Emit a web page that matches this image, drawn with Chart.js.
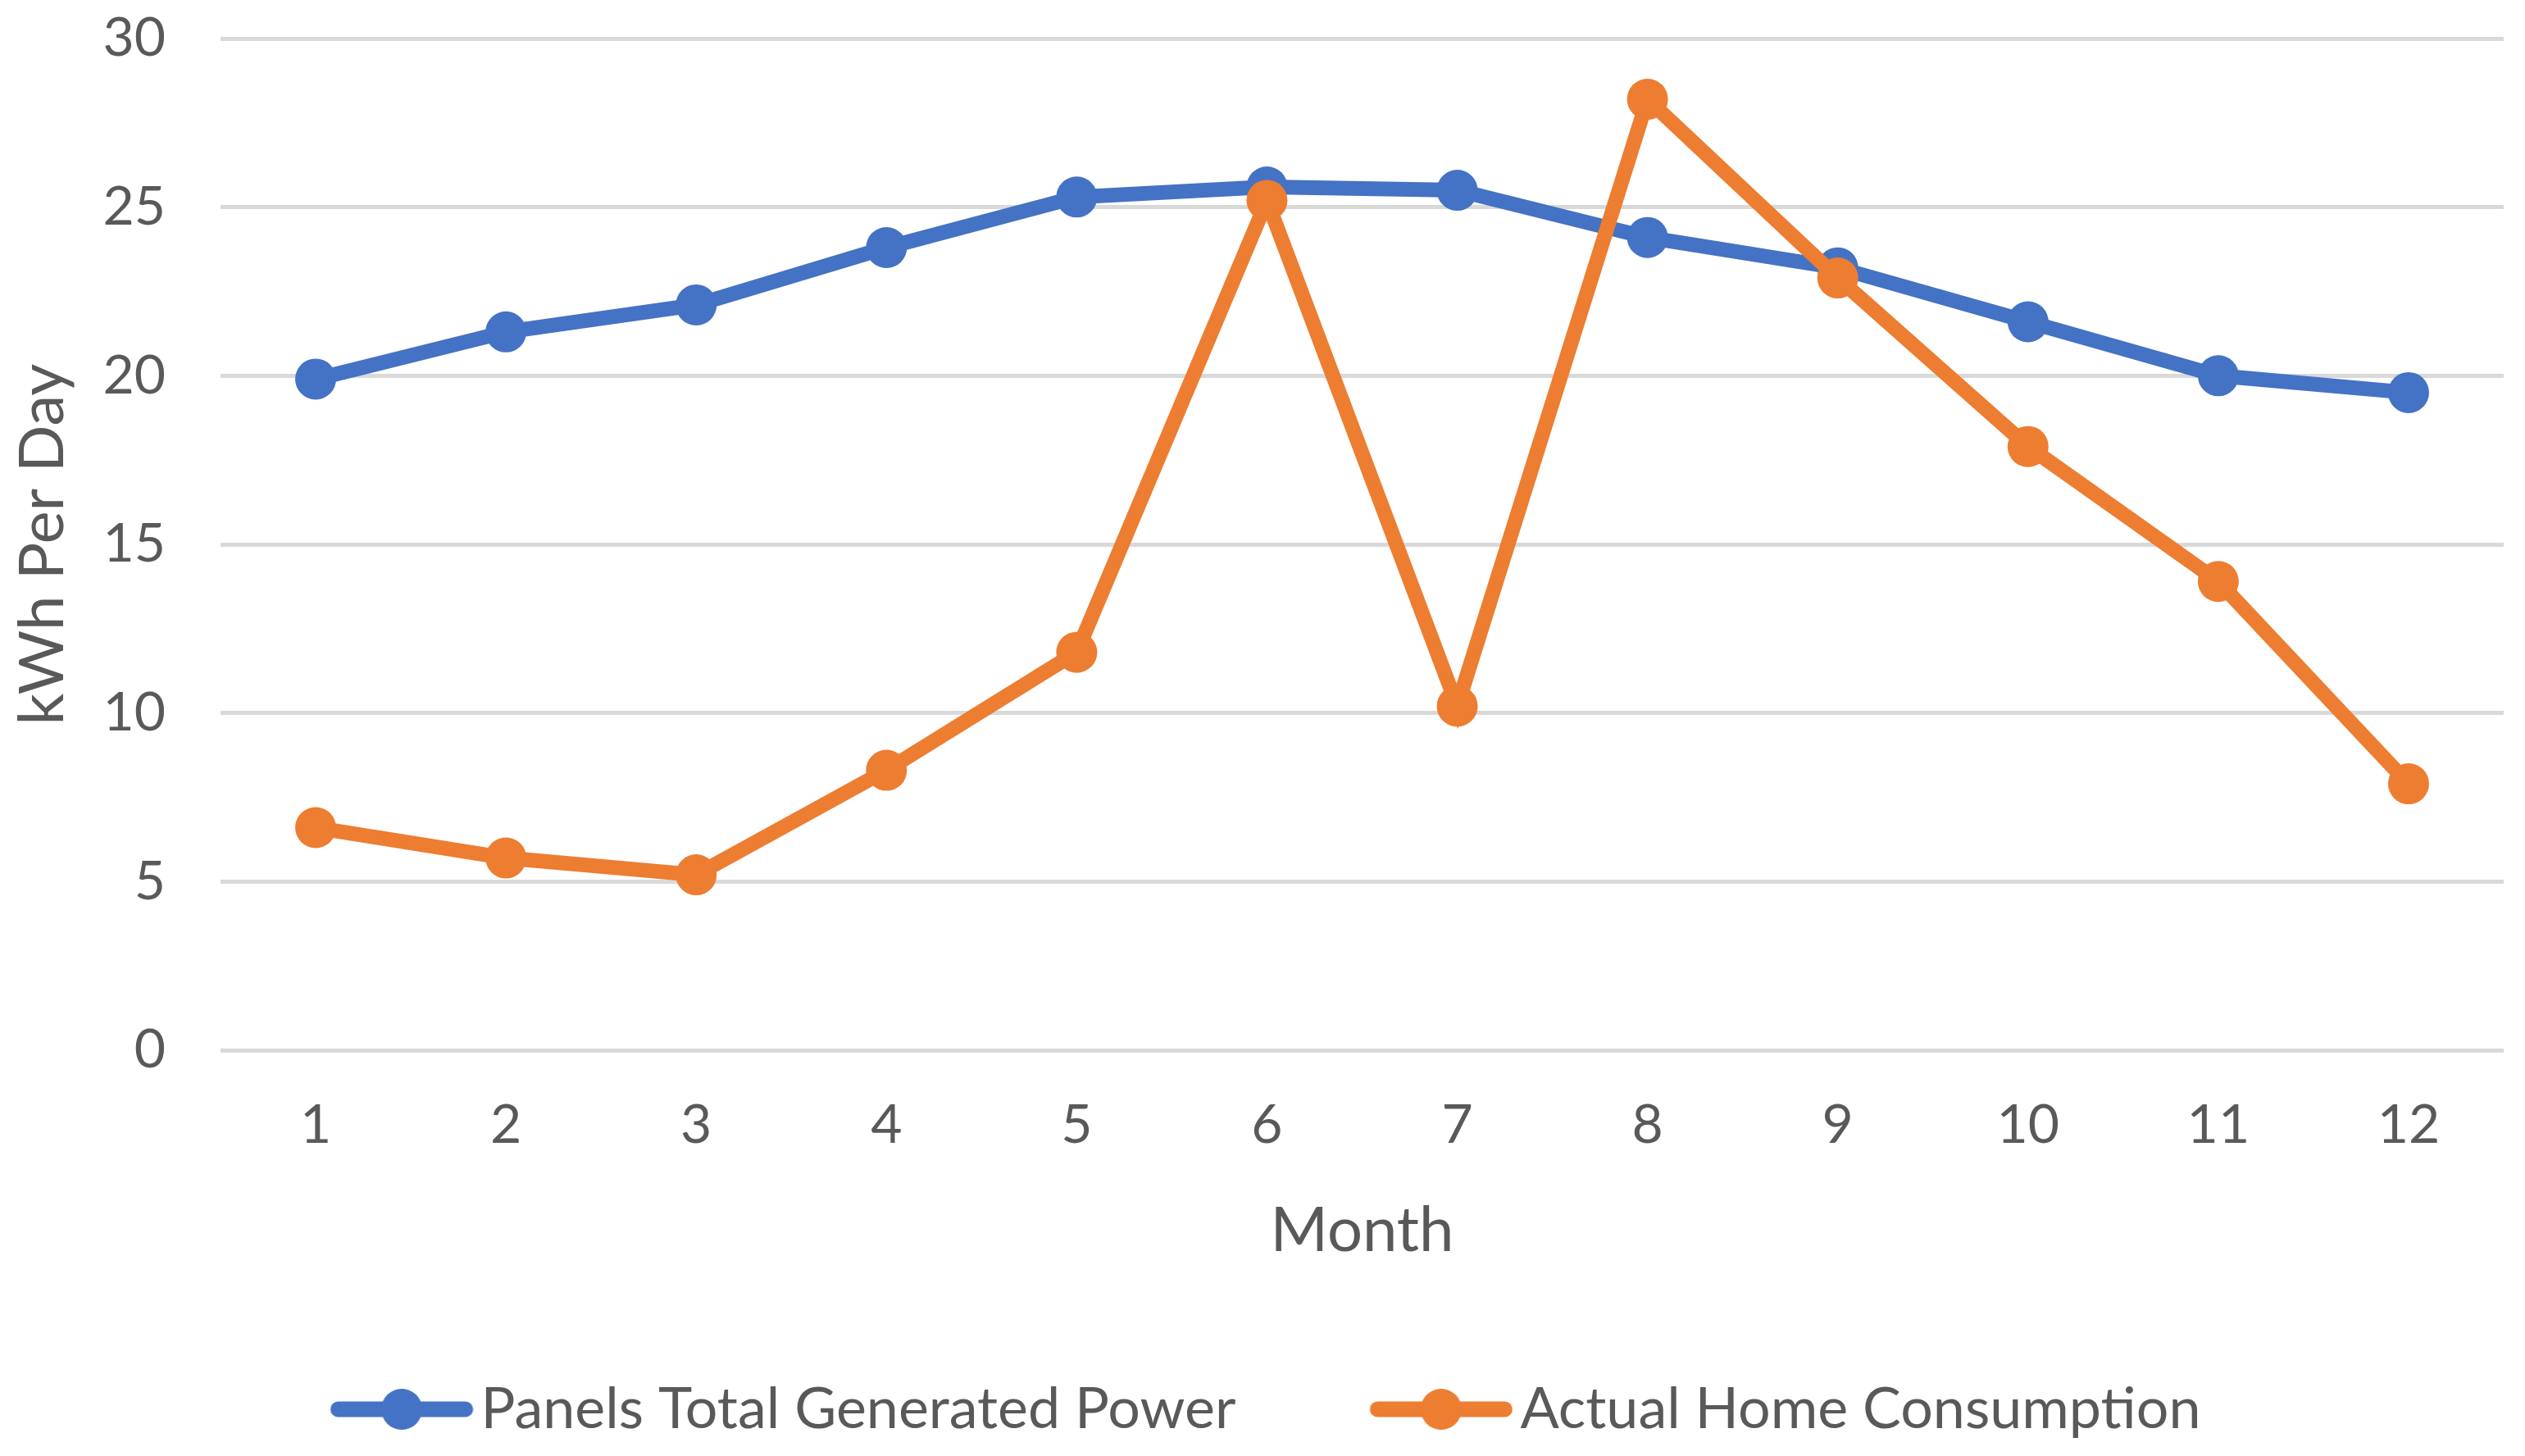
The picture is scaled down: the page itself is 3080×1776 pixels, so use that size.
<!DOCTYPE html>
<html>
<head>
<meta charset="utf-8">
<script src="https://cdn.jsdelivr.net/npm/chart.js@4.4.1/dist/chart.umd.min.js"></script>
<style>
  html, body { margin: 0; padding: 0; background: #fff; }
  #wrap { width: 3080px; height: 1776px; position: relative; }
</style>
</head>
<body>
<div id="wrap"><canvas id="chart"></canvas></div>
<script>
// Data
const months = ['1', '2', '3', '4', '5', '6', '7', '8', '9', '10', '11', '12'];
const generatedPower = [19.9, 21.3, 22.1, 23.8, 25.3, 25.6, 25.5, 24.1, 23.2, 21.6, 20.0, 19.5];
const homeConsumption = [6.6, 5.7, 5.2, 8.3, 11.8, 25.2, 10.2, 28.2, 22.9, 17.9, 13.9, 7.9];
const yTicks = [0, 5, 10, 15, 20, 25, 30];

const BLUE = '#4472C4';
const ORANGE = '#ED7D31';
const TEXT = '#595959';
const GRID = '#D9D9D9';

// Legend icon: line with a dot in the middle (Excel style)
function legendIcon(color) {
    const c = document.createElement('canvas');
    c.width = 227;
    c.height = 54;
    const g = c.getContext('2d');
    g.strokeStyle = color;
    g.lineWidth = 19;
    g.lineCap = 'round';
    g.beginPath();
    g.moveTo(62, 27);
    g.lineTo(217, 27);
    g.stroke();
    g.fillStyle = color;
    g.beginPath();
    g.arc(139.5, 27, 25, 0, Math.PI * 2);
    g.fill();
    return c;
}

Chart.defaults.font.family = 'Lato, "Open Sans", sans-serif';
Chart.defaults.color = TEXT;

const ctx = document.getElementById('chart').getContext('2d');

new Chart(ctx, {
    type: 'line',
    data: {
        labels: months,
        datasets: [
            {
                label: 'Panels Total Generated Power',
                data: generatedPower,
                borderColor: BLUE,
                backgroundColor: BLUE,
                borderWidth: 18,
                pointRadius: 25,
                pointBorderWidth: 0,
                pointBackgroundColor: BLUE,
                tension: 0,
                order: 1
            },
            {
                label: 'Actual Home Consumption',
                data: homeConsumption,
                borderColor: ORANGE,
                backgroundColor: ORANGE,
                borderWidth: 18,
                pointRadius: 25,
                pointBorderWidth: 0,
                pointBackgroundColor: ORANGE,
                tension: 0,
                order: 0
            }
        ]
    },
    options: {
        responsive: true,
        maintainAspectRatio: false,
        devicePixelRatio: 1,
        animation: false,
        layout: {
            padding: { left: 7, right: 26, top: 47, bottom: 12 }
        },
        plugins: {
            tooltip: { enabled: false },
            legend: {
                display: true,
                position: 'bottom',
                labels: {
                    color: TEXT,
                    font: { size: 70 },
                    padding: 137,
                    usePointStyle: true,
                    pointStyleWidth: 175,
                    sort: (a, b) => a.datasetIndex - b.datasetIndex,
                    generateLabels(chart) {
                        const items = Chart.defaults.plugins.legend.labels.generateLabels(chart);
                        items.forEach(item => {
                            item.pointStyle = legendIcon(item.datasetIndex === 0 ? BLUE : ORANGE);
                        });
                        return items;
                    }
                }
            }
        },
        scales: {
            x: {
                offset: true,
                grid: { display: false, drawTicks: false },
                border: { display: false },
                ticks: {
                    color: TEXT,
                    font: { size: 66 },
                    padding: 52,
                    maxRotation: 0
                },
                title: {
                    display: true,
                    text: 'Month',
                    color: TEXT,
                    font: { size: 76 },
                    padding: 0
                },
                afterFit(scale) {
                    scale.height = 266;
                    scale.paddingLeft = 0;
                    scale.paddingRight = 0;
                }
            },
            y: {
                min: 0,
                max: 30,
                grid: {
                    color: GRID,
                    lineWidth: 5,
                    drawTicks: false
                },
                border: { display: false },
                afterBuildTicks(scale) {
                    scale.ticks = yTicks.map(v => ({ value: v }));
                },
                ticks: {
                    color: TEXT,
                    font: { size: 66 },
                    padding: 67
                },
                title: {
                    display: true,
                    text: 'kWh Per Day',
                    color: TEXT,
                    font: { size: 76 },
                    padding: 0
                },
                afterFit(scale) {
                    scale.width = 262;
                    scale.paddingTop = 0;
                    scale.paddingBottom = 0;
                }
            }
        }
    }
});
</script>
</body>
</html>
